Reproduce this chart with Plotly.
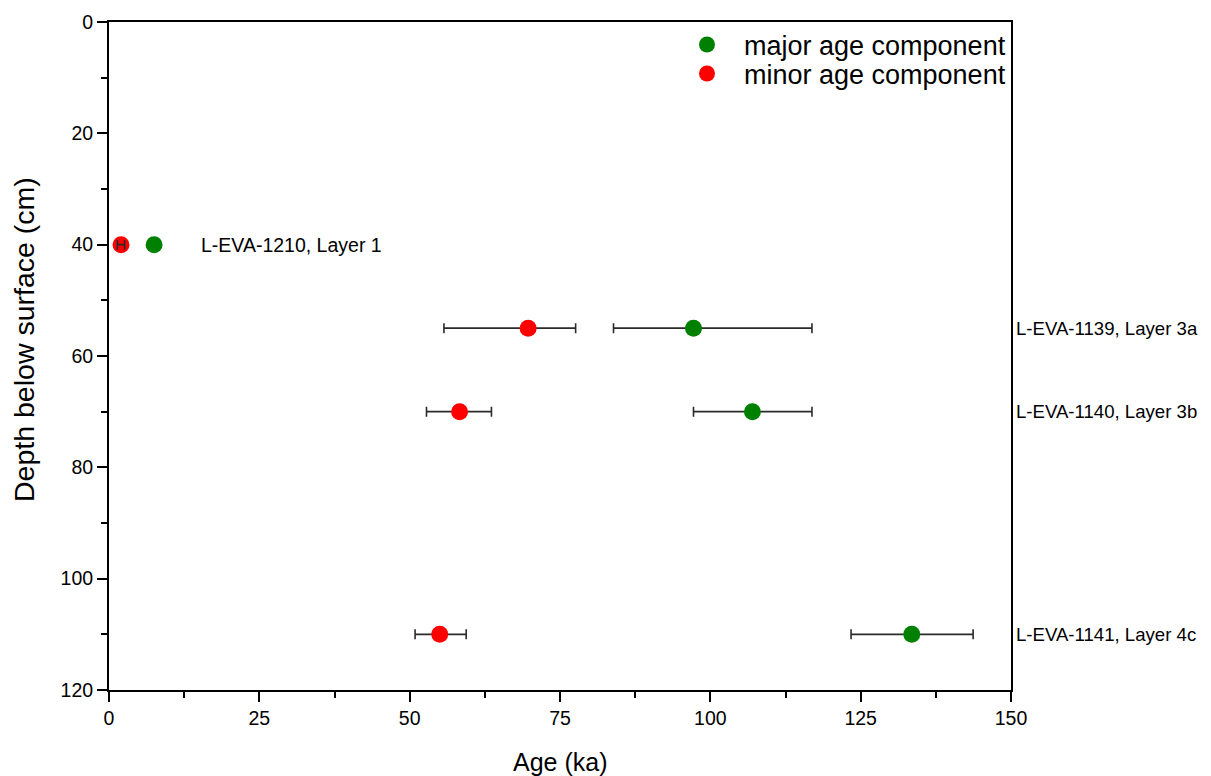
import plotly.graph_objects as go

depth = [40, 55, 70, 110]
major_age = [7.5, 97.2, 107.0, 133.5]
major_err_plus = [0.0, 19.7, 9.9, 10.2]
major_err_minus = [0.0, 13.3, 9.8, 10.1]
minor_age = [2.0, 69.7, 58.3, 55.0]
minor_err_plus = [0.6, 7.9, 5.3, 4.4]
minor_err_minus = [0.6, 14.0, 5.5, 4.1]
sample_labels = ["L-EVA-1210, Layer 1", "L-EVA-1139, Layer 3a", "L-EVA-1140, Layer 3b", "L-EVA-1141, Layer 4c"]

ERR_COLOR = "#2a2a2a"
FONT = "Liberation Sans, Arial"

fig = go.Figure()
fig.add_trace(go.Scatter(
    x=major_age, y=depth, mode="markers", name="major age component",
    marker=dict(color="#008000", size=17), legend="legend",
    error_x=dict(type="data", symmetric=False, array=major_err_plus, arrayminus=major_err_minus,
                 color=ERR_COLOR, thickness=1.6, width=5),
))
fig.add_trace(go.Scatter(
    x=minor_age, y=depth, mode="markers", name="minor age component",
    marker=dict(color="#ff0000", size=17), legend="legend2",
    error_x=dict(type="data", symmetric=False, array=minor_err_plus, arrayminus=minor_err_minus,
                 color=ERR_COLOR, thickness=1.6, width=5),
))
# the tiny error bar of the shallowest sample is drawn over its dot
fig.add_trace(go.Scatter(
    x=minor_age[:1], y=depth[:1], mode="markers", showlegend=False, hoverinfo="skip",
    marker=dict(color="rgba(0,0,0,0)", size=1),
    error_x=dict(type="data", symmetric=False, array=minor_err_plus[:1], arrayminus=minor_err_minus[:1],
                 color=ERR_COLOR, thickness=1.6, width=5),
))

# Sample labels
fig.add_annotation(x=15, y=depth[0], text=sample_labels[0], showarrow=False,
                   xanchor="left", yanchor="middle", font=dict(size=19.5, color="black", family=FONT))
for d, lab in zip(depth[1:], sample_labels[1:]):
    fig.add_annotation(x=1.0, xref="paper", y=d, yref="y", text=lab, showarrow=False,
                       xanchor="left", yanchor="middle", xshift=3,
                       font=dict(size=18.6, color="black", family=FONT))

# Axis titles
fig.add_annotation(x=0.5, xref="paper", y=0, yref="paper", yshift=-72, text="Age (ka)",
                   showarrow=False, xanchor="center", yanchor="middle",
                   font=dict(size=25, color="black", family=FONT))
fig.add_annotation(x=0, xref="paper", xshift=-85, y=0.524, yref="paper",
                   text="Depth below surface (cm)", textangle=-90,
                   showarrow=False, xanchor="center", yanchor="middle",
                   font=dict(size=28.5, color="black", family=FONT))

axis_common = dict(showline=True, linecolor="black", linewidth=2, mirror=True,
                   showgrid=False, zeroline=False, ticks="outside", ticklen=10,
                   tickwidth=2, tickcolor="black", automargin=False,
                   tickfont=dict(size=19.5, color="black", family=FONT))

fig.update_xaxes(range=[0, 150], tickvals=[0, 25, 50, 75, 100, 125, 150],
                 minor=dict(tickvals=[12.5, 37.5, 62.5, 87.5, 112.5, 137.5], ticks="outside",
                            ticklen=6, tickwidth=2, tickcolor="black"),
                 **axis_common)
fig.update_yaxes(range=[120, 0], tickvals=[0, 20, 40, 60, 80, 100, 120],
                 minor=dict(tickvals=[10, 30, 50, 70, 90, 110], ticks="outside",
                            ticklen=6, tickwidth=2, tickcolor="black"),
                 **axis_common)

legend_style = dict(x=1.0, xanchor="right", yanchor="middle",
                    bgcolor="rgba(0,0,0,0)", font=dict(size=27, color="black", family=FONT),
                    itemwidth=64)

fig.update_layout(
    width=1203, height=768,
    margin=dict(l=101, r=200, t=14, b=86),
    plot_bgcolor="white", paper_bgcolor="white",
    font=dict(family=FONT, color="black"),
    showlegend=True,
    legend=dict(y=0.9656, **legend_style),
    legend2=dict(y=0.9222, **legend_style),
)

fig.write_html("out.html")
